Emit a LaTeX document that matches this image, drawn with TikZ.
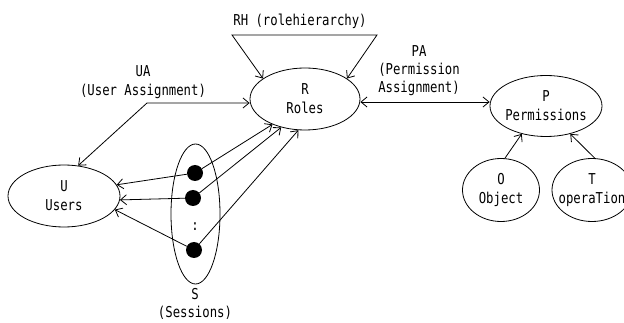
\documentclass[tikz,border=0pt]{standalone}
\usepackage{fontspec}
\setmainfont{DejaVu Sans Mono}[FakeStretch=0.82]
\usetikzlibrary{shapes.geometric,arrows.meta}
\begin{document}
\begin{tikzpicture}[x=1pt,y=-1pt,
 every node/.style={font=\fontsize{15}{19}\selectfont, text=black},
 ell/.style={draw, ellipse, inner sep=0pt, line width=0.8pt},
 lbl/.style={align=center, inner sep=0pt},
 dot/.style={circle, fill=black, inner sep=0pt, minimum size=16pt},
 tip/.tip={Straight Barb[length=6pt,width=10pt]},
 conn/.style={line width=0.8pt, -tip},
 conn2/.style={line width=0.8pt, tip-tip}
]
\useasboundingbox (0,0) rectangle (624,323);
\clip (0,0) rectangle (624,323);

% main sets
\node[ell, minimum width=110pt, minimum height=62pt, label={[lbl]center:R\\Roles}] (R) at (305,99) {};
\node[ell, minimum width=112pt, minimum height=61pt, label={[lbl]center:P\\Permissions}] (P) at (546,106) {};
\node[ell, minimum width=112pt, minimum height=62pt, label={[lbl]center:U\\Users}] (U) at (64,196) {};
\node[ell, minimum width=49pt, minimum height=140pt] (S) at (195.5,214) {};
\node[ell, minimum width=77pt, minimum height=63pt, label={[lbl]center:O\\Object}] (O) at (501,190) {};
\node[ell, minimum width=80pt, minimum height=63pt, label={[lbl]center:T\\operaTion}] (T) at (592,190) {};

% sessions
\node[dot] (d1) at (195,173) {};
\node[dot] (d2) at (193,198) {};
\node[dot] (d3) at (194,250) {};
\node[lbl] (colon) at (195,227) {:};

% labels
\node[lbl, font=\fontsize{15}{18}\selectfont] (Slbl) at (195,303.5) {S\\(Sessions)};
\node[lbl] (RHlbl) at (300,21) {RH (rolehierarchy)};
\node[lbl] (UAlbl) at (143,82) {UA\\(User Assignment)};
\node[lbl, font=\fontsize{15}{18}\selectfont] (PAlbl) at (419,71) {PA\\(Permission\\Assignment)};

% helper coordinates
\coordinate (rh1) at (232,35);
\coordinate (rh2) at (377,35);
\coordinate (ua) at (147,103);
\coordinate (pa) at (0,102);

% connectors
\draw[conn2] (R.154) -- (rh1) -- (rh2) -- (R.26);
\draw[conn2] (U.65) -- (ua) -- (ua -| R.west);
\draw[conn2] (pa -| R.east) -- (pa -| P.west);
\draw[conn] (d1) -- (U.12);
\draw[conn] (d2) -- (U.-4);
\draw[conn] (d3) -- (U.-15);
\draw[conn] (d1) -- (R.218);
\draw[conn] (d2) -- (R.230);
\draw[conn] (d3) -- (R.258);
\draw[conn] (O.83) -- (P.229);
\draw[conn] (T.85) -- (P.311);
\end{tikzpicture}
\end{document}
